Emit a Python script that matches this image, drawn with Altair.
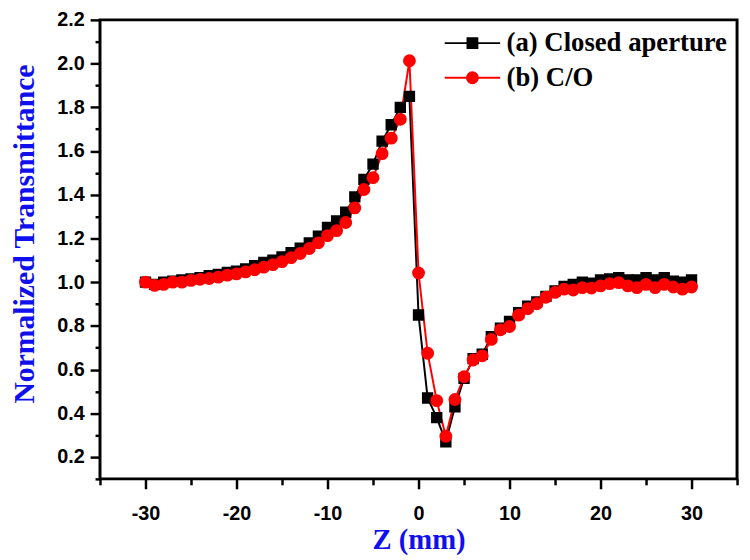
import altair as alt
import pandas as pd

# ---- data ----
z_mm = list(range(-30, 31))

closed_aperture = [
    1.00, 0.99, 1.00, 1.005, 1.01, 1.015, 1.02, 1.03, 1.035, 1.045,
    1.05, 1.06, 1.075, 1.09, 1.10, 1.115, 1.135, 1.155, 1.18, 1.21,
    1.25, 1.28, 1.32, 1.39, 1.47, 1.54, 1.645, 1.72, 1.80, 1.85,
    0.85,
    0.47, 0.38, 0.27, 0.43, 0.56, 0.65, 0.67, 0.75, 0.79, 0.82,
    0.86, 0.89, 0.91, 0.935, 0.96, 0.98, 0.99, 1.00, 0.995, 1.01,
    1.015, 1.02, 1.01, 1.01, 1.02, 1.01, 1.02, 1.005, 1.00, 1.01,
]

c_over_o = [
    1.00, 0.985, 0.99, 1.00, 1.00, 1.008, 1.013, 1.017, 1.023, 1.032,
    1.038, 1.047, 1.057, 1.069, 1.08, 1.094, 1.112, 1.131, 1.154, 1.18,
    1.213, 1.236, 1.273, 1.34, 1.424, 1.478, 1.588, 1.659, 1.745, 2.013,
    1.042,
    0.675, 0.458, 0.295, 0.463, 0.567, 0.644, 0.663, 0.738, 0.782, 0.797,
    0.849, 0.879, 0.901, 0.931, 0.953, 0.968, 0.964, 0.975, 0.973, 0.983,
    0.993, 0.998, 0.983, 0.975, 0.99, 0.975, 0.99, 0.978, 0.968, 0.978,
]

series_names = ["(a) Closed aperture", "(b) C/O"]
series_colors = ["#000000", "#ff0000"]

x_major = [-30, -20, -10, 0, 10, 20, 30]
x_minor = [-35, -25, -15, -5, 5, 15, 25, 35]
y_major = [0.2, 0.4, 0.6, 0.8, 1.0, 1.2, 1.4, 1.6, 1.8, 2.0, 2.2]
y_minor = [0.1, 0.3, 0.5, 0.7, 0.9, 1.1, 1.3, 1.5, 1.7, 1.9, 2.1]

df = pd.DataFrame({
    "z": z_mm + z_mm,
    "T": closed_aperture + c_over_o,
    "series": [series_names[0]] * len(z_mm) + [series_names[1]] * len(z_mm),
})

# legend symbols: line segment with the marker in the middle ("-■-" / "-●-")
sq_path = "M-4.67,0L4.67,0M-0.83,-0.83L0.83,-0.83L0.83,0.83L-0.83,0.83Z"
circ_path = "M-4.67,0L4.67,0M-0.92,0A0.92,0.92,0,1,1,0.92,0A0.92,0.92,0,1,1,-0.92,0Z"

xs = alt.Scale(domain=[-35, 35], nice=False, zero=False)
ys = alt.Scale(domain=[0.1, 2.2], nice=False, zero=False)


def make_legend(sym, y):
    return alt.Legend(
        title=None, orient="none", legendX=363, legendY=y,
        labelFont="Liberation Serif", labelFontWeight="bold", labelFontSize=27,
        labelColor="#000000", labelLimit=400, symbolSize=144, symbolStrokeWidth=2,
        symbolType=sym, symbolOpacity=1, labelOffset=21, padding=0,
    )


base = alt.Chart(df)

lines = base.mark_line(strokeWidth=2).encode(
    x=alt.X("z:Q", scale=xs, axis=alt.Axis(
        orient="bottom", values=x_major, title="Z (mm)", tickSize=10,
        labelExpr="'' + datum.value", labelPadding=15,
        titleY=70, titleBaseline="alphabetic")),
    y=alt.Y("T:Q", scale=ys, axis=alt.Axis(
        orient="left", values=y_major, title="Normalized Transmittance", tickSize=10,
        labelExpr="format(datum.value, '.1f')", labelPadding=6,
        titleAngle=270, titleX=-67, titleY=216, titleAlign="center",
        titleBaseline="alphabetic", titleFontSize=30)),
    stroke=alt.Stroke("series:N", scale=alt.Scale(domain=series_names, range=series_colors), legend=None),
)

points_a = base.transform_filter(alt.datum.series == series_names[0]).mark_point(
    filled=True, shape="square", size=90, stroke=series_colors[0], strokeWidth=2, opacity=1
).encode(
    x=alt.X("z:Q", scale=xs, axis=alt.Axis(
        orient="bottom", values=x_minor, labels=False, tickSize=6, title=None)),
    y=alt.Y("T:Q", scale=ys, axis=alt.Axis(
        orient="left", values=y_minor, labels=False, tickSize=5, title=None)),
    color=alt.Color("series:N", scale=alt.Scale(domain=[series_names[0]], range=[series_colors[0]]),
                    legend=make_legend(sq_path, 10)),
)

points_b = base.transform_filter(alt.datum.series == series_names[1]).mark_point(
    filled=True, shape="circle", size=121, stroke=series_colors[1], strokeWidth=2, opacity=1
).encode(
    x=alt.X("z:Q", scale=xs, axis=None),
    y=alt.Y("T:Q", scale=ys, axis=None),
    fill=alt.Fill("series:N", scale=alt.Scale(domain=[series_names[1]], range=[series_colors[1]]),
                  legend=make_legend(circ_path, 45)),
)

chart = alt.layer(lines, points_a, points_b).resolve_axis(
    x="independent", y="independent"
).properties(
    width=644, height=464,
    padding={"left": 93, "top": 9, "right": 5, "bottom": 79},
    autosize=alt.AutoSizeParams(type="none"),
).configure_view(
    stroke="#000000", strokeWidth=3
).configure_axis(
    labelFont="Liberation Sans", labelFontWeight="bold", labelFontSize=20,
    labelColor="#000000", tickColor="#000000", tickWidth=2.5,
    domain=False, grid=False,
    titleFont="Liberation Serif", titleFontWeight="bold", titleFontSize=29,
    titleColor="#1010ee",
)

chart.save("out.html", embed_options={"renderer": "svg", "actions": False})
